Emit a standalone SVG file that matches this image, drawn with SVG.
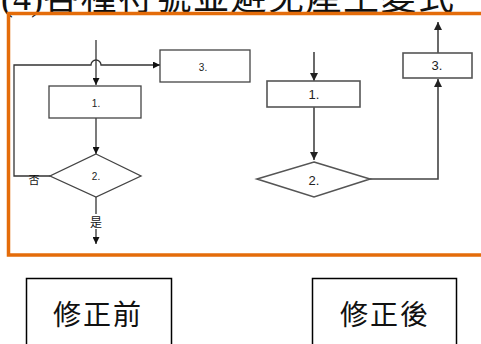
<svg xmlns="http://www.w3.org/2000/svg" width="481" height="344" viewBox="0 0 481 344">
<style>
.ln{fill:none;stroke:#333;stroke-width:1.3}
.ln2{fill:none;stroke:#444;stroke-width:1.6}
.bx{fill:#fff;stroke:#444;stroke-width:1.3}
.bx2{fill:#fff;stroke:#555;stroke-width:1.6}
.t1{font-family:"Liberation Sans",sans-serif;font-size:10px;fill:#222;text-anchor:middle}
.t2{font-family:"Liberation Sans",sans-serif;font-size:13px;fill:#222;text-anchor:middle}
.cj{font-family:"Noto Sans CJK TC","Noto Sans CJK SC",sans-serif;fill:#111;text-anchor:middle}
.lab{fill:#fff;stroke:#000;stroke-width:1.5}
</style>
<defs>
<marker id="ah" viewBox="0 0 10 10" refX="10" refY="5" markerWidth="7" markerHeight="7" markerUnits="userSpaceOnUse" orient="auto"><path d="M0,0L10,5L0,10z" fill="#111"/></marker>
<marker id="ah2" viewBox="0 0 10 10" refX="10" refY="5" markerWidth="8" markerHeight="8" markerUnits="userSpaceOnUse" orient="auto"><path d="M0,0L10,5L0,10z" fill="#222"/></marker>
</defs>
<rect width="481" height="344" fill="#fff"/>
<g id="title">
<text x="22" y="10" font-family="Liberation Serif,serif" font-size="36" fill="#111" text-anchor="middle">(4)</text>
<text x="43" y="10" font-family="Noto Sans CJK TC,Noto Sans CJK SC,sans-serif" font-size="36" letter-spacing="1.5" fill="#111">各種符號並避免產生變式</text>
</g>
<rect id="frame" x="8.5" y="13.5" width="490" height="241.5" fill="none" stroke="#E46C0A" stroke-width="3.5"/>
<g id="connectors">
<path class="ln" d="M96,40V85" marker-end="url(#ah)"/>
<path class="ln" d="M50,176H14V65H91A5,5 0 0 1 101,65H160" marker-end="url(#ah)"/>
<path class="ln" d="M96,118V154" marker-end="url(#ah)"/>
<path class="ln" d="M96,197V214"/>
<path class="ln" d="M96,229V244" marker-end="url(#ah)"/>
<path class="ln2" d="M314,52V81" marker-end="url(#ah2)"/>
<path class="ln2" d="M314,107V160" marker-end="url(#ah2)"/>
<path class="ln2" d="M370,179H438V79" marker-end="url(#ah2)"/>
<path class="ln2" d="M438,53V22" marker-end="url(#ah2)"/>
</g>
<g id="L1"><rect class="bx" x="49" y="86" width="92" height="32"/><text class="t1" x="96" y="107">1.</text></g>
<g id="L2"><path class="bx" d="M96,154L141,176L96,197L50,176z"/><text class="t1" x="96" y="180">2.</text></g>
<g id="L3"><rect class="bx" x="160" y="50" width="90" height="32"/><text class="t1" x="203" y="71">3.</text></g>
<g id="Lno"><text class="cj" x="34" y="184" font-size="11">否</text></g>
<g id="Lyes"><text class="cj" x="96" y="227" font-size="12">是</text></g>
<g id="R1"><rect class="bx2" x="267" y="81" width="93" height="26"/><text class="t2" x="314" y="99">1.</text></g>
<g id="R2"><path class="bx2" d="M314,162L370,179L314,197L257,179z"/><text class="t2" x="314" y="185" font-size="16">2.</text></g>
<g id="R3"><rect class="bx2" x="403" y="53" width="69" height="25"/><text class="t2" x="437" y="70">3.</text></g>
<g id="before"><rect class="lab" x="26.5" y="278.5" width="145" height="80"/><text class="cj" x="98" y="325" font-size="28" letter-spacing="2">修正前</text></g>
<g id="after"><rect class="lab" x="312.5" y="278.5" width="144" height="80"/><text class="cj" x="385" y="325" font-size="28" letter-spacing="2">修正後</text></g>
</svg>
